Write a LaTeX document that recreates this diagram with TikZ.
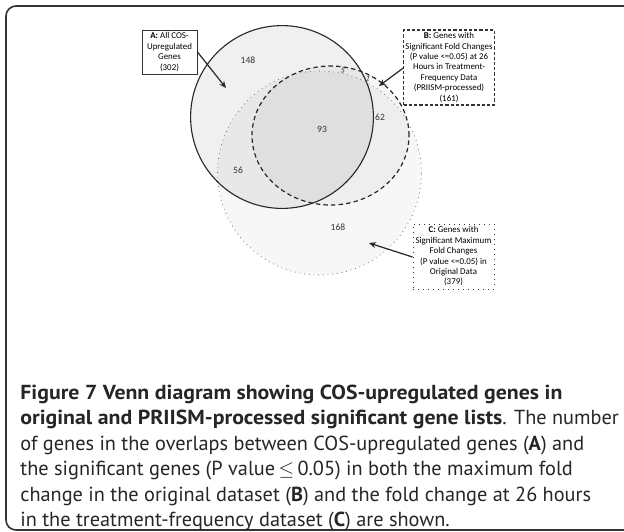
\documentclass[tikz,border=0pt]{standalone}
\usepackage{fontspec}
\setmainfont{PT Sans}
\newfontfamily\boxfont{Carlito}
\usetikzlibrary{arrows.meta}
\newcommand\wb[1]{\scalebox{1.075}[1]{\textbf{#1}}}
\begin{document}
\begin{tikzpicture}[x=0.5pt,y=-0.5pt,
  lbl/.style={font=\boxfont\fontsize{4.45}{5.2}\selectfont, align=center, inner sep=0.8pt, fill=white, line width=0.5pt, draw=black!80},
  num/.style={font=\boxfont\fontsize{4.8}{5}\selectfont, text=black!80, inner sep=0pt},
  arr/.style={-{Stealth[length=3.5pt,width=3pt]}, line width=0.6pt, black!85},
  capline/.style={font=\fontsize{10.15}{12}\selectfont, anchor=base west, inner sep=0pt, text=black!85}]
\clip (0,0) rectangle (624,531);
\fill[white] (0,0) rectangle (624,531);
\draw[line width=0.8pt, black!80, rounded corners=5pt] (640,6) -- (6,6) -- (6,530) -- (640,530);

% fills
\fill[black, fill opacity=0.03] (319.5,173) circle [radius=51pt];
\fill[black, fill opacity=0.06] (282,117) circle [radius=45.7pt];
\fill[black, fill opacity=0.035] (330.5,135.5) ellipse [x radius=39.25pt, y radius=34.75pt];
% outlines
\draw[black!65, line width=0.35pt, dotted] (319.5,173) circle [radius=51pt];
\draw[black!85, line width=0.55pt] (282,117) circle [radius=45.7pt];
\draw[black!85, line width=0.6pt, dash pattern=on 2.2pt off 1.6pt] (330.5,135.5) ellipse [x radius=39.25pt, y radius=34.75pt];

% numbers
\node[num] (n148) at (248,60) {148};
\node[num] (n93) at (322,129) {93};
\node[num] (n62) at (380,117) {62};
\node[num] (n56) at (238,170) {56};
\node[num] (n168) at (338,227) {168};
\node[num, font=\boxfont\fontsize{4}{5}\selectfont, rotate=-15] (n5) at (343,71) {5};
\node[num, font=\boxfont\fontsize{4}{5}\selectfont, rotate=-15] (n1) at (368,79) {1};

% label boxes
\node[lbl, minimum width=27.5pt, minimum height=22pt] (boxA) at (169.5,52)
  {\textbf{A:} All COS-\\Upregulated\\Genes\\(302)};
\node[lbl, minimum width=45pt, minimum height=37.5pt, dash pattern=on 1.6pt off 1pt, line width=0.6pt] (boxB) at (449,67.5)
  {\textbf{B:} Genes with\\Significant Fold Changes\\(P value <=0.05) at 26\\Hours in Treatment-\\Frequency Data\\(PRIISM-processed)\\(161)};
\node[lbl, minimum width=40.5pt, minimum height=32.5pt, dotted, line width=0.5pt] (boxC) at (453.5,256.5)
  {\textbf{C:} Genes with\\Significant Maximum\\Fold Changes\\(P value <=0.05) in\\Original Data\\(379)};

\coordinate (tipA) at (226,88);
\coordinate (tipB) at (379,86);
\coordinate (tipC) at (369,243);
\draw[arr] (boxA.east |- 0,52) -- (tipA);
\draw[arr] (boxB.west |- 0,68) -- (tipB);
\draw[arr] (boxC.west |- 0,257) -- (tipC);

% caption
\node[capline] (cap1) at (20,399) {\wb{Figure 7 Venn diagram showing COS-upregulated genes in}};
\node[capline] (cap2) at (20,424.5) {\wb{original and PRIISM-processed significant gene lists}. The number};
\node[capline] (cap3) at (20,450) {of genes in the overlaps between COS-upregulated genes (\textbf{A}) and};
\node[capline] (cap4) at (20,475.5) {the significant genes (P value\,$\le$\,0.05) in both the maximum fold};
\node[capline] (cap5) at (20,501) {change in the original dataset (\textbf{B}) and the fold change at 26 hours};
\node[capline] (cap6) at (20,526.5) {in the treatment-frequency dataset (\textbf{C}) are shown.};
\end{tikzpicture}
\end{document}
